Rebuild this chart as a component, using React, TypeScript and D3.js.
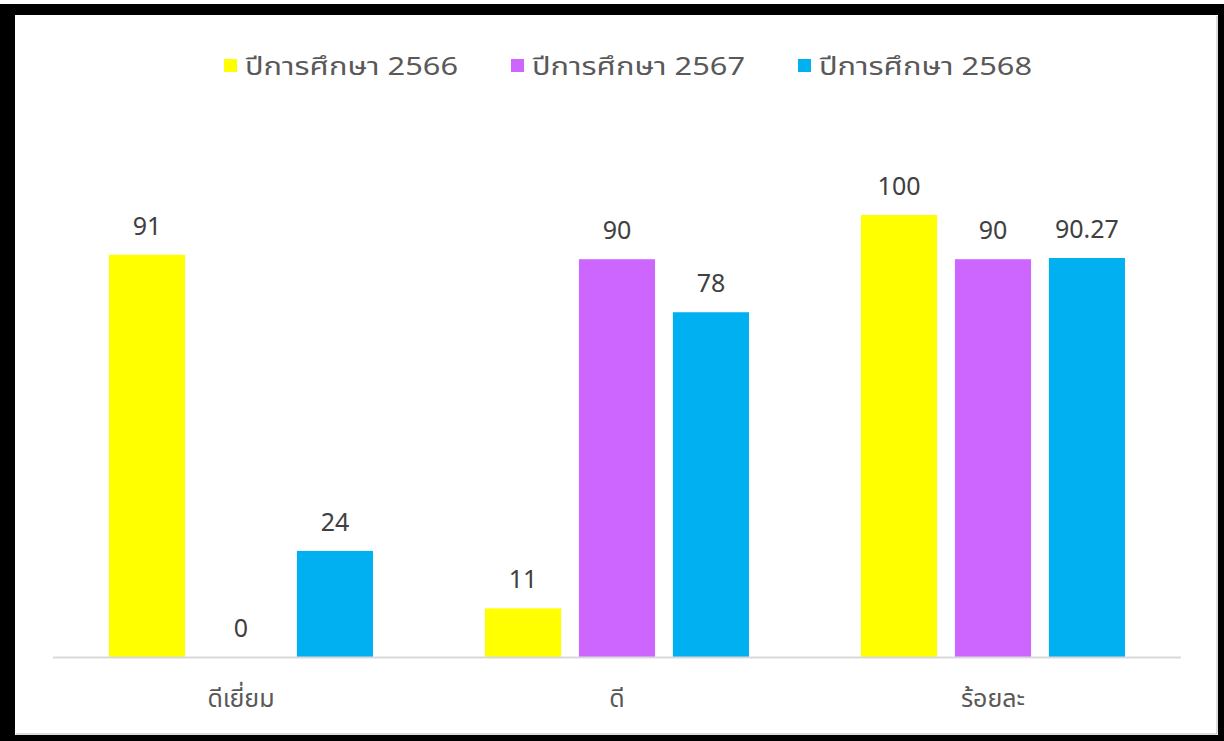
import React from "react";
import * as d3 from "d3";

const categories = ["ดีเยี่ยม", "ดี", "ร้อยละ"];
const seriesNames = ["ปีการศึกษา 2566", "ปีการศึกษา 2567", "ปีการศึกษา 2568"];
const seriesColors = ["#FFFF00", "#CC66FF", "#00B0F0"];
const values2566 = [91, 11, 100];
const values2567 = [0, 90, 90];
const values2568 = [24, 78, 90.27];
const seriesValues = [values2566, values2567, values2568];

const W = 1224;
const H = 741;
const FONT = "'Noto Sans', 'Noto Sans Thai', Tahoma, sans-serif";

export default function App() {
  const left = 53;
  const right = 1181;
  const baseY = 657;
  const x0 = d3.scaleBand<string>().domain(categories).range([left, right]).paddingInner(0).paddingOuter(0);
  const groupPad = 56;
  const x1 = d3
    .scaleBand<string>()
    .domain(seriesNames)
    .range([groupPad, x0.bandwidth() - groupPad])
    .paddingInner(0.19)
    .paddingOuter(0);
  const y = d3.scaleLinear().domain([0, 100]).range([baseY, 215]);

  const legendX = [224, 511, 798];

  return (
    <svg
      width={W}
      height={H}
      style={{ position: "absolute", left: 0, top: 0, background: "#fff" }}
      fontFamily={FONT}
    >
      <rect x={0} y={0} width={W} height={H} fill="#fff" />
      <rect x={0} y={4} width={W} height={H - 4} fill="#000" />
      <rect x={15} y={15} width={1203} height={720} fill="#fff" />
      <line x1={16} y1={734} x2={1217} y2={734} stroke="#bbb" strokeWidth={1} />
      <line x1={1217} y1={16} x2={1217} y2={734} stroke="#bbb" strokeWidth={1} />

      {seriesNames.map((s, i) => (
        <g key={s}>
          <rect x={legendX[i]} y={59} width={13} height={13} fill={seriesColors[i]} />
          <text
            x={legendX[i] + 21}
            y={75}
            fontSize={25}
            fill="#595959"
            textLength={213}
            lengthAdjust="spacingAndGlyphs"
          >
            {s}
          </text>
        </g>
      ))}

      {categories.map((c, ci) => (
        <g key={c}>
          {seriesNames.map((s, si) => {
            const v = seriesValues[si][ci];
            const bx = (x0(c) ?? 0) + (x1(s) ?? 0);
            const bw = x1.bandwidth();
            return (
              <g key={s}>
                {v > 0 && (
                  <rect x={bx} y={y(v)} width={bw} height={baseY - y(v)} fill={seriesColors[si]} />
                )}
                <text
                  x={bx + bw / 2}
                  y={y(v) - 20}
                  textAnchor="middle"
                  fontSize={25}
                  fill="#404040"
                >
                  {String(v)}
                </text>
              </g>
            );
          })}
          <text
            x={(x0(c) ?? 0) + x0.bandwidth() / 2}
            y={707}
            textAnchor="middle"
            fontSize={25}
            fill="#595959"
          >
            {c}
          </text>
        </g>
      ))}

      <line x1={left} y1={baseY + 0.5} x2={right} y2={baseY + 0.5} stroke="#D9D9D9" strokeWidth={2} />
    </svg>
  );
}
